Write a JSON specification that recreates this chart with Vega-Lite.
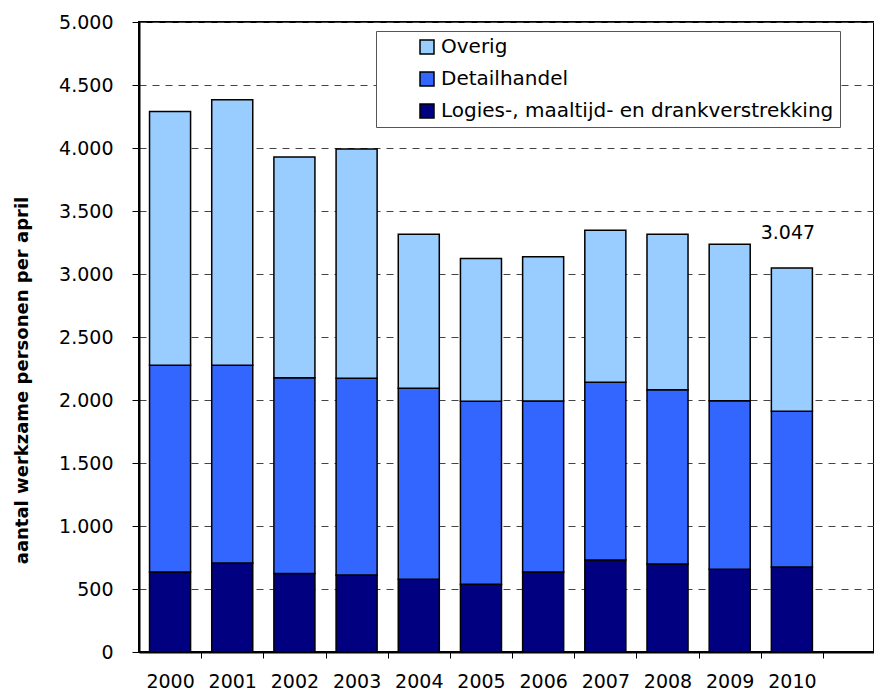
{
  "$schema": "https://vega.github.io/schema/vega-lite/v6.json",
  "width": 735,
  "height": 630,
  "autosize": {"type": "none"},
  "padding": {"left": 139, "top": 22, "right": 0, "bottom": 39},
  "background": "white",
  "config": {
    "font": "DejaVu Sans",
    "view": {"stroke": "#000", "strokeWidth": 2},
    "axis": {"labelFont": "DejaVu Sans", "titleFont": "DejaVu Sans", "labelColor": "#000", "titleColor": "#000"}
  },
  "datasets": {
    "main": [
      {"year": "2000", "category": "Logies-, maaltijd- en drankverstrekking", "value": 635},
      {"year": "2000", "category": "Detailhandel", "value": 1640},
      {"year": "2000", "category": "Overig", "value": 2015},
      {"year": "2001", "category": "Logies-, maaltijd- en drankverstrekking", "value": 706},
      {"year": "2001", "category": "Detailhandel", "value": 1569},
      {"year": "2001", "category": "Overig", "value": 2108},
      {"year": "2002", "category": "Logies-, maaltijd- en drankverstrekking", "value": 624},
      {"year": "2002", "category": "Detailhandel", "value": 1553},
      {"year": "2002", "category": "Overig", "value": 1752},
      {"year": "2003", "category": "Logies-, maaltijd- en drankverstrekking", "value": 611},
      {"year": "2003", "category": "Detailhandel", "value": 1561},
      {"year": "2003", "category": "Overig", "value": 1820},
      {"year": "2004", "category": "Logies-, maaltijd- en drankverstrekking", "value": 577},
      {"year": "2004", "category": "Detailhandel", "value": 1516},
      {"year": "2004", "category": "Overig", "value": 1222},
      {"year": "2005", "category": "Logies-, maaltijd- en drankverstrekking", "value": 537},
      {"year": "2005", "category": "Detailhandel", "value": 1453},
      {"year": "2005", "category": "Overig", "value": 1134},
      {"year": "2006", "category": "Logies-, maaltijd- en drankverstrekking", "value": 635},
      {"year": "2006", "category": "Detailhandel", "value": 1357},
      {"year": "2006", "category": "Overig", "value": 1145},
      {"year": "2007", "category": "Logies-, maaltijd- en drankverstrekking", "value": 730},
      {"year": "2007", "category": "Detailhandel", "value": 1410},
      {"year": "2007", "category": "Overig", "value": 1207},
      {"year": "2008", "category": "Logies-, maaltijd- en drankverstrekking", "value": 698},
      {"year": "2008", "category": "Detailhandel", "value": 1384},
      {"year": "2008", "category": "Overig", "value": 1233},
      {"year": "2009", "category": "Logies-, maaltijd- en drankverstrekking", "value": 656},
      {"year": "2009", "category": "Detailhandel", "value": 1339},
      {"year": "2009", "category": "Overig", "value": 1241},
      {"year": "2010", "category": "Logies-, maaltijd- en drankverstrekking", "value": 675},
      {"year": "2010", "category": "Detailhandel", "value": 1235},
      {"year": "2010", "category": "Overig", "value": 1137}
    ],
    "annot": [
      {"year": "2010", "total": 3047, "label": "3.047"}
    ]
  },
  "layer": [
    {
      "data": {"name": "main"},
      "transform": [
        {"calculate": "indexof(['Logies-, maaltijd- en drankverstrekking', 'Detailhandel', 'Overig'], datum.category)", "as": "stackRank"}
      ],
      "mark": {"type": "bar", "stroke": "#000", "strokeWidth": 1.5},
      "encoding": {
        "x": {
          "field": "year", "type": "nominal",
          "scale": {"domain": ["2000","2001","2002","2003","2004","2005","2006","2007","2008","2009","2010"], "paddingInner": 0.34, "paddingOuter": 0.58, "align": 0.146},
          "axis": {"title": null, "labelAngle": 0, "labelFontSize": 19, "labelPadding": 14, "bandPosition": 1, "tickOffset": 10.6, "labelOffset": -10.6, "tickSize": 6, "tickColor": "#000", "tickWidth": 1, "domainColor": "#000", "domainWidth": 2, "grid": false}
        },
        "y": {
          "field": "value", "type": "quantitative", "aggregate": "sum", "stack": "zero",
          "scale": {"domain": [0, 5000], "nice": false},
          "axis": {
            "title": "aantal werkzame personen per april",
            "titleFontSize": 18, "titleFontWeight": "bold", "titleAngle": 270, "titleX": -117, "titleY": 358, "titleAlign": "center", "titleBaseline": "middle",
            "values": [0,500,1000,1500,2000,2500,3000,3500,4000,4500,5000],
            "labelExpr": "replace(format(datum.value, ','), ',', '.')",
            "labelFontSize": 19, "labelPadding": 19, "tickSize": 7, "tickColor": "#000", "tickWidth": 1,
            "domainColor": "#000", "domainWidth": 2,
            "grid": true, "gridColor": "#444", "gridDash": [7, 6], "gridWidth": 1
          }
        },
        "order": {"field": "stackRank", "type": "quantitative", "sort": "ascending"},
        "color": {
          "field": "category", "type": "nominal",
          "scale": {"domain": ["Logies-, maaltijd- en drankverstrekking", "Detailhandel", "Overig"], "range": ["#000080", "#3366FF", "#99CCFF"]},
          "legend": {
            "title": null,
            "values": ["Overig", "Detailhandel", "Logies-, maaltijd- en drankverstrekking"],
            "orient": "none", "legendX": 237, "legendY": 9,
            "direction": "vertical",
            "fillColor": "white", "strokeColor": "#555",
            "padding": 6, "symbolOffset": 35,
            "symbolType": "square", "symbolSize": 196, "symbolStrokeColor": "#000", "symbolStrokeWidth": 1.5,
            "labelFontSize": 20, "labelFont": "DejaVu Sans", "labelColor": "#000", "labelOffset": 4, "labelLimit": 600,
            "rowPadding": 12
          }
        }
      }
    },
    {
      "data": {"name": "annot"},
      "mark": {"type": "text", "fontSize": 19, "font": "DejaVu Sans", "color": "#000", "baseline": "alphabetic", "dy": -29, "dx": -4},
      "encoding": {
        "x": {"field": "year", "type": "nominal"},
        "y": {"field": "total", "type": "quantitative"},
        "text": {"field": "label"}
      }
    }
  ]
}
